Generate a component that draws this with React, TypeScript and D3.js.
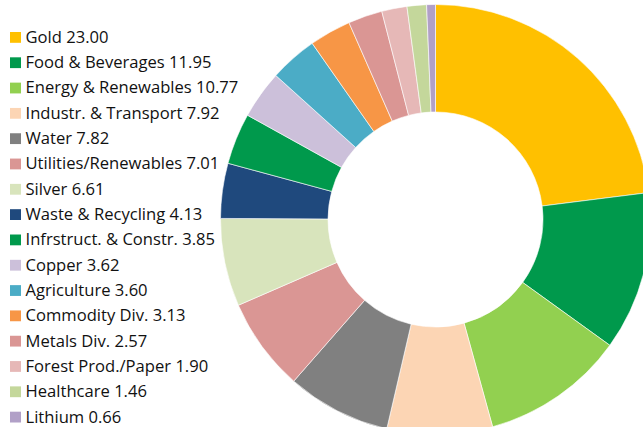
import React from "react";
import * as d3 from "d3";

const categories = [
  "Gold", "Food & Beverages", "Energy & Renewables", "Industr. & Transport", "Water",
  "Utilities/Renewables", "Silver", "Waste & Recycling", "Infrstruct. & Constr.", "Copper",
  "Agriculture", "Commodity Div.", "Metals Div.", "Forest Prod./Paper", "Healthcare", "Lithium",
];
const values = [23.0, 11.95, 10.77, 7.92, 7.82, 7.01, 6.61, 4.13, 3.85, 3.62, 3.6, 3.13, 2.57, 1.9, 1.46, 0.66];
const colors = [
  "#FFC000", "#00994C", "#92D050", "#FCD5B4", "#808080",
  "#DA9694", "#D8E4BC", "#1F497D", "#00994C", "#CCC0DA",
  "#4BACC6", "#F79646", "#DA9694", "#E6B8B7", "#C4D79B", "#B1A0C7",
];

const W = 643, H = 427;
const cx = 435.5, cy = 219.5, rOuter = 215, rInner = 107.5;

export default function App() {
  const data = categories.map((c, i) => ({ c, v: values[i], col: colors[i] }));
  const pie = d3.pie<any>().sort(null).value((d) => d.v);
  const arc = d3.arc<any>().innerRadius(rInner).outerRadius(rOuter);
  const arcs = pie(data);
  const legendY = d3.scaleLinear().domain([0, categories.length - 1]).range([42.8, 422.5]);
  return (
    <svg width={W} height={H} style={{ position: "fixed", left: 0, top: 0, background: "#fff" }}>
      <g transform={`translate(${cx},${cy})`}>
        {arcs.map((a, i) => (
          <path key={i} d={arc(a) as string} fill={a.data.col} stroke="#fff" strokeWidth={0.6} />
        ))}
      </g>
      <g fontFamily="'Open Sans', sans-serif" fontSize={16.6} fill="#111">
        {data.map((d, i) => (
          <g key={i} transform={`translate(0,${legendY(i)})`}>
            <rect x={10} y={-10.8} width={11} height={10.8} fill={d.col} />
            <text x={25.5} y={0}>{`${d.c} ${d.v.toFixed(2)}`}</text>
          </g>
        ))}
      </g>
    </svg>
  );
}
